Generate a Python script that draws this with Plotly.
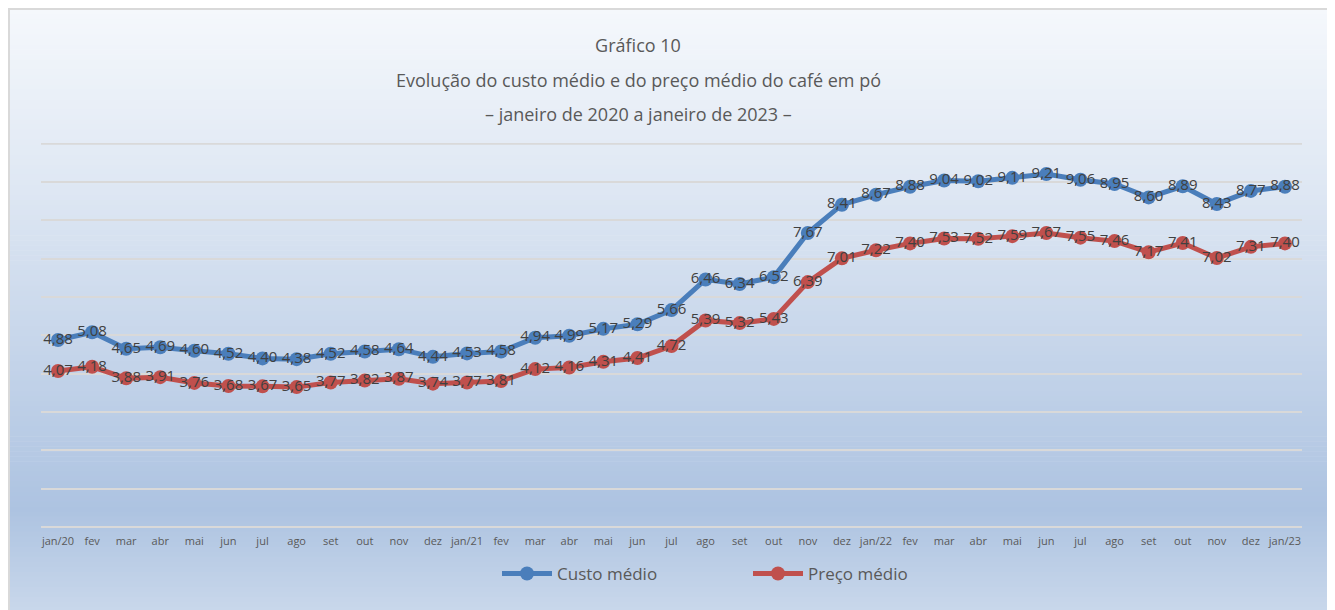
import plotly.graph_objects as go

meses = ["jan/20", "fev", "mar", "abr", "mai", "jun", "jul", "ago", "set", "out", "nov", "dez",
         "jan/21", "fev", "mar", "abr", "mai", "jun", "jul", "ago", "set", "out", "nov", "dez",
         "jan/22", "fev", "mar", "abr", "mai", "jun", "jul", "ago", "set", "out", "nov", "dez",
         "jan/23"]

custo_medio = [4.88, 5.08, 4.65, 4.69, 4.60, 4.52, 4.40, 4.38, 4.52, 4.58, 4.64, 4.44,
               4.53, 4.58, 4.94, 4.99, 5.17, 5.29, 5.66, 6.46, 6.34, 6.52, 7.67, 8.41,
               8.67, 8.88, 9.04, 9.02, 9.11, 9.21, 9.06, 8.95, 8.60, 8.89, 8.43, 8.77,
               8.88]

preco_medio = [4.07, 4.18, 3.88, 3.91, 3.76, 3.68, 3.67, 3.65, 3.77, 3.82, 3.87, 3.74,
               3.77, 3.81, 4.12, 4.16, 4.31, 4.41, 4.72, 5.39, 5.32, 5.43, 6.39, 7.01,
               7.22, 7.40, 7.53, 7.52, 7.59, 7.67, 7.55, 7.46, 7.17, 7.41, 7.02, 7.31,
               7.40]

x_idx = list(range(len(meses)))

# figure is placed with the page's 8px body margin
W, H = 1327, 602
ML, MR, MT, MB = 33, 33, 135, 83
PW = W - ML - MR
PH = H - MT - MB
FONT = "Open Sans"
Y_MAX = 10


def px_x(p):
    return (p - ML) / PW


def px_y(p):
    return (H - MB - p) / PH


fig = go.Figure()

for nome, vals, cor in [("Custo médio", custo_medio, "#4a7ebb"),
                        ("Preço médio", preco_medio, "#c0504d")]:
    fig.add_trace(go.Scatter(
        x=x_idx, y=vals, name=nome,
        mode="lines+markers+text",
        line=dict(color=cor, width=5),
        marker=dict(color=cor, size=14),
        texttemplate="%{y:.2f}", textposition="middle center",
        textfont=dict(family=FONT, size=15, color="#404040"),
        cliponaxis=False,
    ))

# background gradient bands
stops = [(0.0, (245, 248, 252)), (0.30, (222, 231, 243)), (0.83, (173, 195, 225)), (1.0, (201, 216, 235))]


def grad(t):
    for (t0, c0), (t1, c1) in zip(stops[:-1], stops[1:]):
        if t0 <= t <= t1:
            f = (t - t0) / (t1 - t0)
            return "rgb(%d,%d,%d)" % tuple(round(a + (b - a) * f) for a, b in zip(c0, c1))
    return "rgb(%d,%d,%d)" % stops[-1][1]


shapes = []
top_px, bot_px = 1, 604
left_px, right_px = 0, 1322
n = 120
for i in range(n):
    y0 = top_px + (bot_px - top_px) * i / n
    y1 = top_px + (bot_px - top_px) * (i + 1) / n + 0.6
    shapes.append(dict(type="rect", xref="paper", yref="paper", layer="below",
                       x0=px_x(left_px), x1=px_x(right_px), y0=px_y(y1), y1=px_y(y0),
                       fillcolor=grad((i + 0.5) / n), line=dict(width=0)))
shapes.append(dict(type="rect", xref="paper", yref="paper", layer="below",
                   x0=px_x(left_px + 1), x1=px_x(right_px), y0=px_y(bot_px), y1=px_y(top_px),
                   fillcolor="rgba(0,0,0,0)", line=dict(color="#d9d9d9", width=2)))
# top gridline (at the edge of the axis range)
shapes.append(dict(type="line", xref="paper", yref="y", layer="below",
                   x0=0, x1=1, y0=Y_MAX, y1=Y_MAX, line=dict(color="#d9d9d9", width=2)))

fig.update_layout(
    width=W, height=H,
    margin=dict(l=ML, r=MR, t=MT, b=MB),
    paper_bgcolor="white", plot_bgcolor="rgba(0,0,0,0)",
    separators=",.",
    showlegend=True,
    shapes=shapes,
    title=dict(text="Gráfico 10", x=630 / W, xref="container", xanchor="center",
               y=1 - 38 / H, yref="container", yanchor="middle",
               font=dict(family=FONT, size=18, color="#595959")),
    annotations=[
        dict(text="Evolução do custo médio e do preço médio do café em pó", xref="paper", yref="paper",
             x=px_x(630), y=px_y(72), xanchor="center", yanchor="middle", showarrow=False,
             font=dict(family=FONT, size=18, color="#595959")),
        dict(text="– janeiro de 2020 a janeiro de 2023 –", xref="paper", yref="paper",
             x=px_x(630), y=px_y(106), xanchor="center", yanchor="middle", showarrow=False,
             font=dict(family=FONT, size=18, color="#595959")),
    ],
    legend=dict(orientation="h", x=px_x(489), xanchor="left", y=px_y(566), yanchor="middle",
                font=dict(family=FONT, size=17, color="#595959"), bgcolor="rgba(0,0,0,0)",
                itemwidth=50, entrywidth=186, entrywidthmode="pixels"),
    xaxis=dict(range=[-0.5, len(meses) - 0.5], tickvals=x_idx, ticktext=meses,
               showgrid=False, zeroline=False, showline=False, ticks="",
               ticklabelstandoff=6,
               tickfont=dict(family=FONT, size=11, color="#595959"), tickangle=0),
    yaxis=dict(range=[0, 10.02], dtick=1, showticklabels=False, showgrid=True,
               gridcolor="#d9d9d9", gridwidth=2, zeroline=True, zerolinecolor="#d9d9d9",
               zerolinewidth=2, showline=False, ticks=""),
)

fig.write_html("out.html")
